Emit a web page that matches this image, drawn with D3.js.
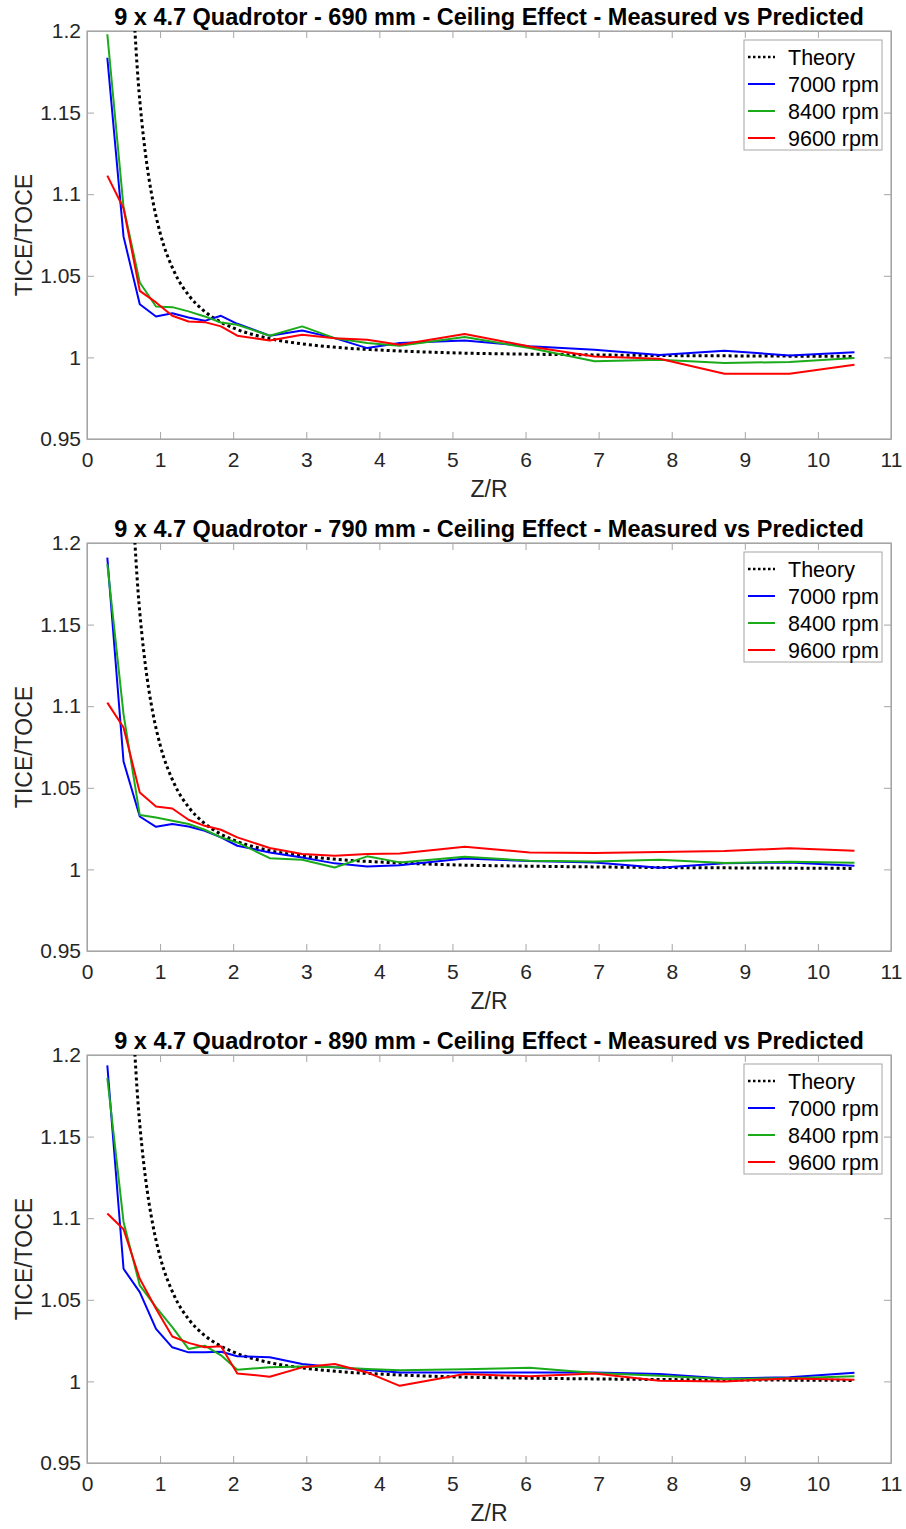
<!DOCTYPE html>
<html>
<head>
<meta charset="utf-8">
<script src="https://cdn.jsdelivr.net/npm/d3@7"></script>
<style>
  body { margin: 0; background: #fff; }
  svg { display: block; font-family: "Liberation Sans", Arial, sans-serif; }
  .tick text { fill: #262626; font-size: 21px; }
</style>
</head>
<body>
<div id="chart"></div>
<script>
// Z/R sample positions (same for all three heights)
const zr = [0.278, 0.5, 0.722, 0.944, 1.167, 1.389, 1.611, 1.833, 2.056, 2.5, 2.944,
            3.389, 3.833, 4.278, 5.167, 6.056, 6.944, 7.833, 8.722, 9.611, 10.5];

// theory curve
const theoryX = [0.64, 0.7, 0.75, 0.8, 0.9, 1.0, 1.2, 1.4, 1.6, 1.8, 2.0, 2.5, 3.0, 3.5, 4, 5, 6, 7, 8, 9, 10.5];
const theoryY = [1.212, 1.1695, 1.1445, 1.1248, 1.0961, 1.0764, 1.0519, 1.0376, 1.0285, 1.0224, 1.0181,
                 1.0115, 1.0080, 1.0058, 1.0045, 1.0028, 1.0020, 1.0015, 1.0011, 1.0009, 1.0006];

const titles = ["9 x 4.7 Quadrotor - 690 mm - Ceiling Effect - Measured vs Predicted",
                "9 x 4.7 Quadrotor - 790 mm - Ceiling Effect - Measured vs Predicted",
                "9 x 4.7 Quadrotor - 890 mm - Ceiling Effect - Measured vs Predicted"];

const rpm7000 = [
  [1.1836, 1.074, 1.0326, 1.0251, 1.0271, 1.0245, 1.0224, 1.0255, 1.0206, 1.0133, 1.0165,
   1.0118, 1.0057, 1.0088, 1.0104, 1.0068, 1.0047, 1.0015, 1.0041, 1.0012, 1.0031],
  [1.191, 1.0661, 1.0324, 1.0261, 1.0278, 1.0263, 1.0237, 1.0196, 1.0145, 1.0104, 1.0073,
   1.0037, 1.0018, 1.0026, 1.0067, 1.0051, 1.0043, 1.001, 1.0037, 1.0043, 1.0022],
  [1.1936, 1.069, 1.0547, 1.0322, 1.0209, 1.0178, 1.0178, 1.0182, 1.0154, 1.0148, 1.0107,
   1.0086, 1.007, 1.0055, 1.0055, 1.0055, 1.0055, 1.0045, 1.0018, 1.0025, 1.0053]
];
const rpm8400 = [
  [1.198, 1.092, 1.0459, 1.0312, 1.0308, 1.0282, 1.0251, 1.0214, 1.020, 1.0133, 1.019,
   1.0118, 1.0088, 1.0072, 1.0125, 1.0057, 0.9976, 0.9986, 0.9966, 0.9972, 0.9996],
  [1.187, 1.095, 1.0333, 1.0318, 1.0298, 1.0278, 1.0243, 1.0196, 1.0165, 1.0069, 1.0059,
   1.0012, 1.008, 1.0043, 1.0077, 1.0053, 1.0049, 1.0059, 1.0039, 1.0047, 1.0041],
  [1.1859, 1.0977, 1.0588, 1.0455, 1.0332, 1.0199, 1.0219, 1.016, 1.0072, 1.0086, 1.0092,
   1.0086, 1.0076, 1.0069, 1.0075, 1.0084, 1.0051, 1.0035, 1.0014, 1.002, 1.0031]
];
const rpm9600 = [
  [1.1114, 1.0914, 1.0408, 1.0337, 1.0255, 1.022, 1.0216, 1.019, 1.0133, 1.0104, 1.0139,
   1.0118, 1.0108, 1.0078, 1.0143, 1.0067, 1.0006, 0.9992, 0.990, 0.990, 0.9955],
  [1.1022, 1.0869, 1.0471, 1.0386, 1.0373, 1.0304, 1.0267, 1.0243, 1.0196, 1.0131, 1.0094,
   1.0084, 1.0094, 1.0098, 1.0139, 1.0104, 1.0100, 1.0106, 1.0112, 1.0130, 1.0114],
  [1.1029, 1.0932, 1.0629, 1.0445, 1.0275, 1.0236, 1.0209, 1.0215, 1.0049, 1.0029, 1.0086,
   1.0107, 1.0055, 0.9973, 1.0045, 1.0031, 1.0049, 1.0004, 1.0, 1.0018, 1.001]
];

const legendNames = ["Theory", "7000 rpm", "8400 rpm", "9600 rpm"];
const colors = ["#000000", "#0000ff", "#1aaa1a", "#ff0000"];

const W = 906, H = 1529;
const margin = { LEFT: 87, RIGHT: 15, TOP: 31 };
const plotW = 891 - 87, plotH = 408, step = 512;

const svg = d3.select("#chart").append("svg")
  .attr("width", W).attr("height", H);

const xScale = d3.scaleLinear().domain([0, 11]).range([0, plotW]);
const yScale = d3.scaleLinear().domain([0.95, 1.2]).range([plotH, 0]);

const line = d3.line()
  .x(d => xScale(d[0]))
  .y(d => yScale(d[1]));
const theoryLine = d3.line()
  .x(d => xScale(d[0]))
  .y(d => yScale(d[1]))
  .curve(d3.curveMonotoneX);

titles.forEach((title, p) => {
  const g = svg.append("g")
    .attr("transform", `translate(${margin.LEFT}, ${margin.TOP + p * step})`);

  g.append("clipPath").attr("id", "clip" + p)
    .append("rect").attr("width", plotW).attr("height", plotH);

  // axes (ticks inward, mirrored on top/right)
  const xTicks = d3.range(0, 12);
  const yTicks = [0.95, 1, 1.05, 1.1, 1.15, 1.2];
  const fmtY = d => d3.format("")(+d.toFixed(2));

  const xAxis = g.append("g").attr("transform", `translate(0, ${plotH})`)
    .call(d3.axisBottom(xScale).tickValues(xTicks).tickSize(-7).tickPadding(13).tickSizeOuter(0));
  const xTop = g.append("g")
    .call(d3.axisTop(xScale).tickValues(xTicks).tickSize(-7).tickFormat("").tickSizeOuter(0));
  const yAxis = g.append("g")
    .call(d3.axisLeft(yScale).tickValues(yTicks).tickFormat(fmtY).tickSize(-7).tickPadding(6).tickSizeOuter(0));
  const yRight = g.append("g").attr("transform", `translate(${plotW}, 0)`)
    .call(d3.axisRight(yScale).tickValues(yTicks).tickSize(-7).tickFormat("").tickSizeOuter(0));

  [xAxis, xTop, yAxis, yRight].forEach(a => {
    a.selectAll(".domain").attr("stroke", "#a6a6a6");
    a.selectAll(".tick line").attr("stroke", "#a6a6a6");
  });

  // box edges
  g.append("rect").attr("width", plotW).attr("height", plotH)
    .attr("fill", "none").attr("stroke", "#a6a6a6").attr("stroke-width", 1.2);

  const lines = g.append("g").attr("clip-path", `url(#clip${p})`);

  lines.append("path")
    .datum(theoryX.map((x, i) => [x, theoryY[i]]))
    .attr("d", theoryLine)
    .attr("fill", "none").attr("stroke", "#000")
    .attr("stroke-width", 3).attr("stroke-dasharray", "3,3");

  [rpm7000[p], rpm8400[p], rpm9600[p]].forEach((vals, k) => {
    lines.append("path")
      .datum(zr.map((x, i) => [x, vals[i]]))
      .attr("d", line)
      .attr("fill", "none").attr("stroke", colors[k + 1])
      .attr("stroke-width", 2).attr("stroke-linejoin", "round");
  });

  // title
  g.append("text")
    .attr("x", plotW / 2).attr("y", -6)
    .attr("text-anchor", "middle")
    .style("font-size", "23.5px").style("font-weight", "bold").attr("fill", "#000")
    .text(title);

  // axis labels
  g.append("text")
    .attr("x", plotW / 2).attr("y", plotH + 58)
    .attr("text-anchor", "middle")
    .style("font-size", "23px").attr("fill", "#262626")
    .text("Z/R");
  g.append("text")
    .attr("transform", "rotate(-90)")
    .attr("x", -plotH / 2).attr("y", -55)
    .attr("text-anchor", "middle")
    .style("font-size", "23px").attr("fill", "#262626")
    .text("TICE/TOCE");

  // legend
  const lg = g.append("g").attr("transform", `translate(${744 - margin.LEFT}, 9)`);
  lg.append("rect").attr("width", 138).attr("height", 110)
    .attr("fill", "#fff").attr("stroke", "#a6a6a6");
  legendNames.forEach((name, i) => {
    const yy = 17 + i * 27;
    lg.append("line")
      .attr("x1", 4).attr("x2", 31).attr("y1", yy).attr("y2", yy)
      .attr("stroke", colors[i])
      .attr("stroke-width", i === 0 ? 2.5 : 2)
      .attr("stroke-dasharray", i === 0 ? "2.5,2.5" : null);
    lg.append("text")
      .attr("x", 44).attr("y", yy).attr("dy", "0.35em")
      .style("font-size", "21.5px").attr("fill", "#000")
      .text(name);
  });
});
</script>
</body>
</html>
